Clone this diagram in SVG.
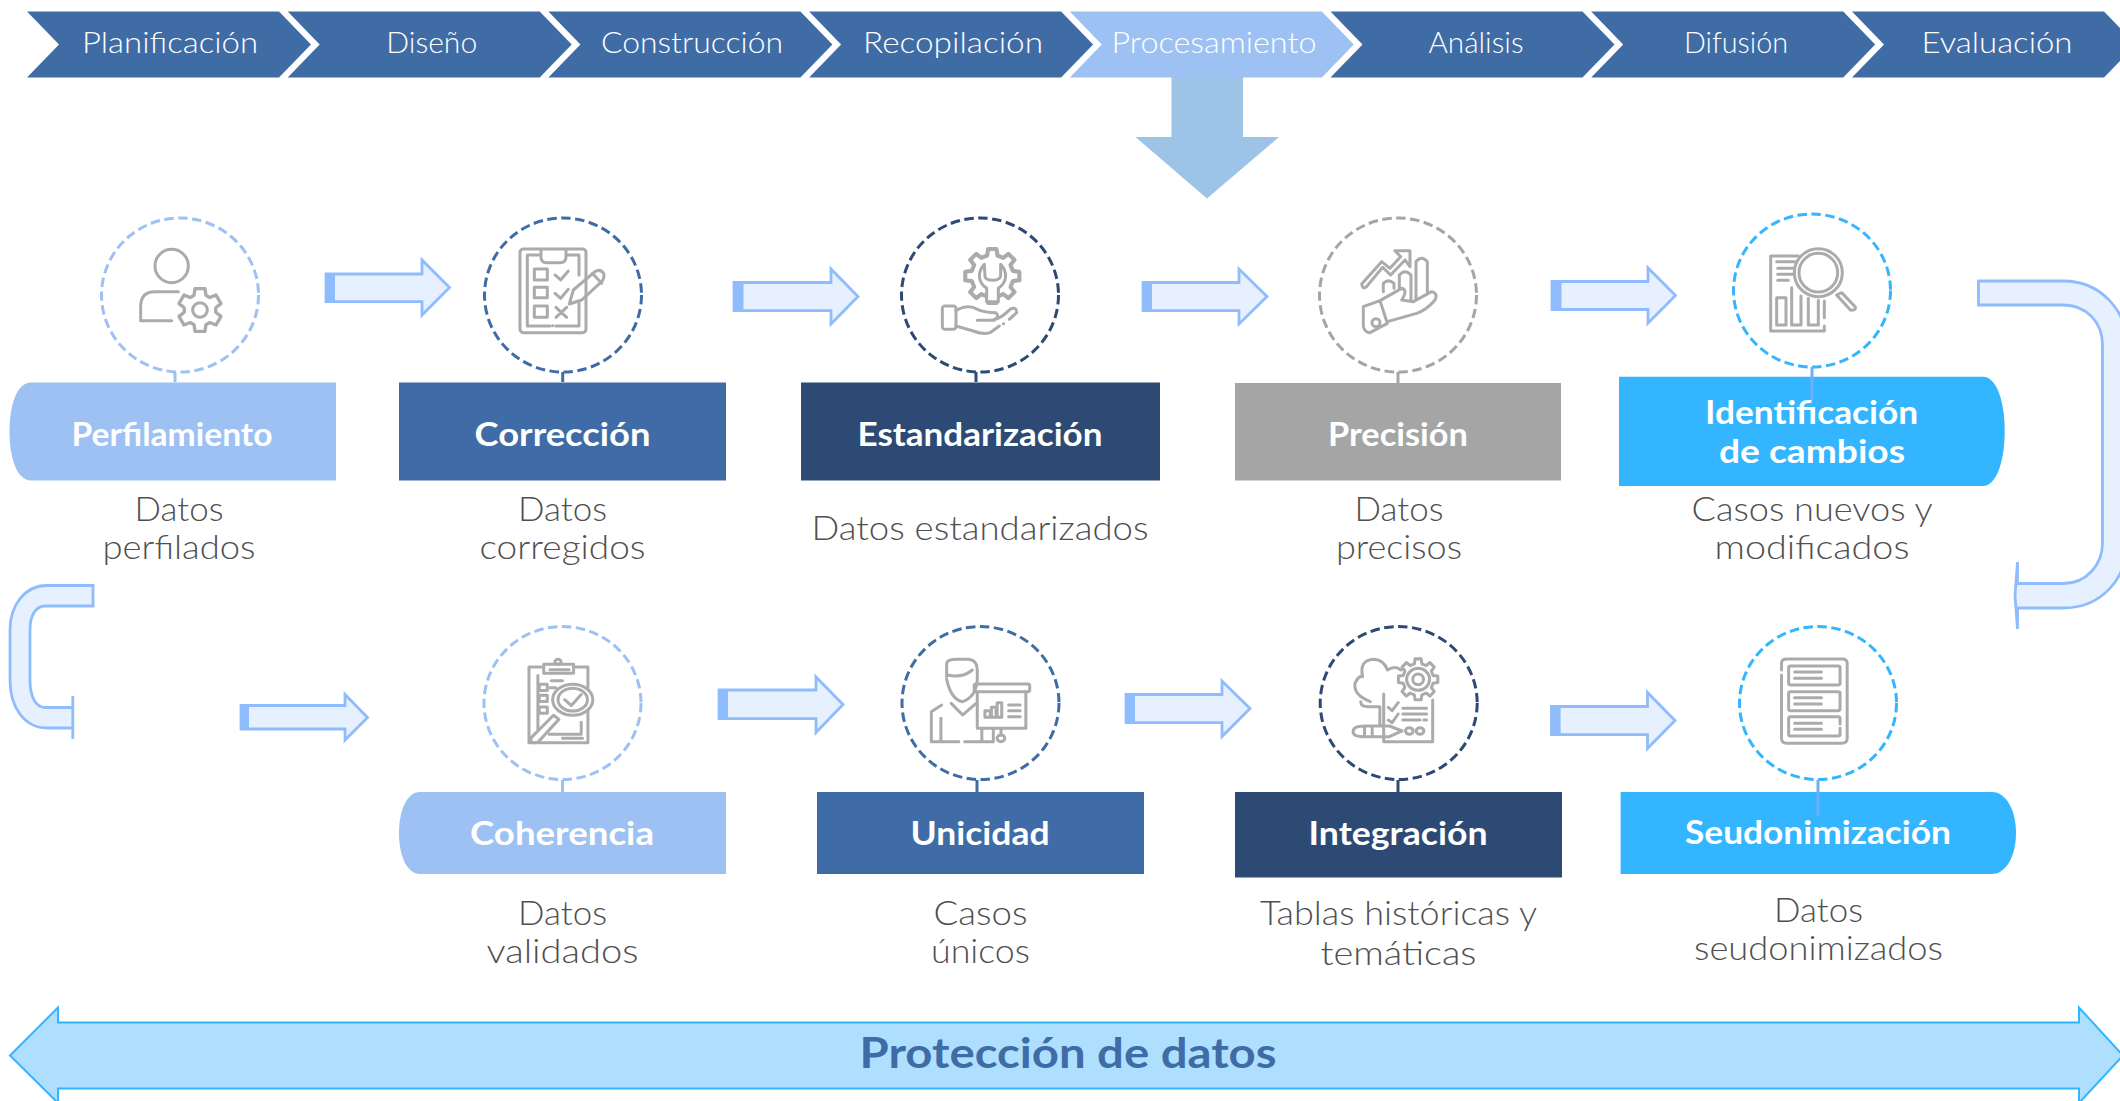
<svg xmlns="http://www.w3.org/2000/svg" xmlns:xlink="http://www.w3.org/1999/xlink" width="2120" height="1101" viewBox="0 0 2120 1101">
<style>
text{font-family:"Lato","Open Sans","Liberation Sans",sans-serif;text-anchor:middle}
.ch{font-size:28.5px;fill:#fff;font-weight:300}
.bx{font-size:32.5px;fill:#fff;font-weight:700}
.cap{font-size:32.5px;fill:#4F4F4F;font-weight:300}
.chev{fill:#406CA6}
.ring{fill:none;stroke-width:3;stroke-dasharray:9.5 4.5}
.arr{fill:#E6F0FE;stroke:#8FBCFC;stroke-width:2.8}
.strip{fill:#8FBCFC}
.icon{fill:none;stroke:#ABABAB;stroke-width:3;stroke-linecap:round;stroke-linejoin:round}
.icon *{vector-effect:non-scaling-stroke}
.l{stroke:#9DC1F3;fill:#9DC1F3}.m{stroke:#3F6CA6;fill:#3F6CA6}.d{stroke:#2C4A74;fill:#2C4A74}.g{stroke:#A5A5A5;fill:#A5A5A5}.c{stroke:#33B5FF;fill:#33B5FF}
.b{stroke:none}.ring.l,.ring.m,.ring.d,.ring.g,.ring.c{fill:none}
.stem{stroke-width:3;fill:none}
</style>
<defs>
<path id="chevron" d="M0 0H252L284 33L252 66H0L32 33Z"/>
<polygon id="g6" points="-5.4,-13.4 -4.5,-19.5 4.5,-19.5 5.4,-13.4 8.9,-11.3 14.6,-13.6 19.1,-5.8 14.3,-2 14.3,2 19.1,5.8 14.6,13.6 8.9,11.3 5.4,13.4 4.5,19.5 -4.5,19.5 -5.4,13.4 -8.9,11.3 -14.6,13.6 -19.1,5.8 -14.3,2 -14.3,-2 -19.1,-5.8 -14.6,-13.6 -8.9,-11.3"/>
<polygon id="g8" points="-3.75,-15 -3.1,-19.8 3.1,-19.8 3.75,-15 8,-13.3 11.8,-16.2 16.2,-11.8 13.3,-8 15,-3.75 19.8,-3.1 19.8,3.1 15,3.75 13.3,8 16.2,11.8 11.8,16.2 8,13.3 3.75,15 3.1,19.8 -3.1,19.8 -3.75,15 -8,13.3 -11.8,16.2 -16.2,11.8 -13.3,8 -15,3.75 -19.8,3.1 -19.8,-3.1 -15,-3.75 -13.3,-8 -16.2,-11.8 -11.8,-16.2 -8,-13.3"/>
</defs>
<rect width="2120" height="1101" fill="#fff"/>

<g id="etapas">
<g id="etapa-planificacion"><use href="#chevron" x="27" y="11.5" class="chev"/><text class="ch" x="170" y="53" textLength="176" lengthAdjust="spacingAndGlyphs">Planificación</text></g>
<g id="etapa-diseno"><use href="#chevron" x="287.7" y="11.5" class="chev"/><text class="ch" x="431.7" y="53" textLength="91" lengthAdjust="spacingAndGlyphs">Diseño</text></g>
<g id="etapa-construccion"><use href="#chevron" x="548.4" y="11.5" class="chev"/><text class="ch" x="692" y="53" textLength="182" lengthAdjust="spacingAndGlyphs">Construcción</text></g>
<g id="etapa-recopilacion"><use href="#chevron" x="809.1" y="11.5" class="chev"/><text class="ch" x="953" y="53" textLength="180" lengthAdjust="spacingAndGlyphs">Recopilación</text></g>
<g id="etapa-procesamiento"><use href="#chevron" x="1069.8" y="11.5" fill="#9DC1F3"/><text class="ch" x="1214" y="53" textLength="205" lengthAdjust="spacingAndGlyphs">Procesamiento</text></g>
<g id="etapa-analisis"><use href="#chevron" x="1330.5" y="11.5" class="chev"/><text class="ch" x="1476" y="53" textLength="95" lengthAdjust="spacingAndGlyphs">Análisis</text></g>
<g id="etapa-difusion"><use href="#chevron" x="1591.2" y="11.5" class="chev"/><text class="ch" x="1736" y="53" textLength="104" lengthAdjust="spacingAndGlyphs">Difusión</text></g>
<g id="etapa-evaluacion"><use href="#chevron" x="1852" y="11.5" class="chev"/><text class="ch" x="1997" y="53" textLength="151" lengthAdjust="spacingAndGlyphs">Evaluación</text></g>
</g>

<g id="connectors">
<path id="flecha-procesamiento" d="M1171.5 77H1243V137H1279L1207 198.5L1135.5 137H1171.5Z" fill="#9DC3E6"/>
<g id="flecha-1"><path class="arr" d="M326 274H422V260L449.5 287.5L422 315V301.7H326Z"/><rect class="strip" x="325" y="274" width="10" height="28"/></g>
<g id="flecha-2"><path class="arr" d="M734 282.5H831V269L858 296.5L831 324V310.7H734Z"/><rect class="strip" x="733.5" y="282.5" width="10" height="28"/></g>
<g id="flecha-3"><path class="arr" d="M1143 282.5H1239V269L1267 296.5L1239 324V310.7H1143Z"/><rect class="strip" x="1142" y="282.5" width="10" height="28"/></g>
<g id="flecha-4"><path class="arr" d="M1552 281.5H1648V268L1675.5 295.5L1648 323V309.5H1552Z"/><rect class="strip" x="1551.5" y="281.5" width="10" height="28"/></g>
<path id="flecha-curva-derecha" class="arr" d="M1978.5 281H2063.5C2100 281 2127 310 2127 345V543C2127 580 2100 608 2063.5 608H2017.5V629L2015 595.5L2017.5 562V583.5H2063.5C2086 583.5 2102.5 565 2102.5 543V345C2102.5 322 2086 305 2063.5 305H1978.5Z"/>
<path id="flecha-curva-izquierda" class="arr" d="M93 585.5H47C25 585.5 10 605 10 630V680C10 708 25 728 47 728H72.8V739V696V707.5H45C36 707.5 30 697 30 680V630C30 615 36 606 45 606H93Z"/>
<g id="flecha-5"><path class="arr" d="M241 705.5H345V694.5L367.5 717.5L345 740V729H241Z"/><rect class="strip" x="240" y="705.5" width="9" height="23.5"/></g>
<g id="flecha-6"><path class="arr" d="M719 690H816V677L843 704.5L816 732.5V718.7H719Z"/><rect class="strip" x="718" y="690" width="10" height="29"/></g>
<g id="flecha-7"><path class="arr" d="M1126 694.5H1222V681L1250 708.5L1222 736.5V722.7H1126Z"/><rect class="strip" x="1125" y="694.5" width="10" height="28"/></g>
<g id="flecha-8"><path class="arr" d="M1551.5 706.5H1647.5V692.5L1675 720.5L1647.5 748.5V734.7H1551.5Z"/><rect class="strip" x="1550.6" y="706.5" width="10" height="28"/></g>
</g>

<g id="perfilamiento">
<ellipse class="ring l" cx="180" cy="295" rx="78.5" ry="77"/><path class="stem l" d="M175 372V382"/>
<path class="l b" d="M336 382.5V480.5H31C17 480.5 9.5 458 9.5 431.5S17 382.5 31 382.5Z"/>
<g class="icon" transform="translate(90 200) scale(.3333)"><circle cx="245" cy="198" r="50"/><path d="M265 275H195Q152 275 152 320V362H245"/><use href="#g6" transform="translate(330 330) scale(3.3)"/><circle cx="330" cy="330" r="22"/></g>
<text class="bx" x="172" y="446" textLength="201" lengthAdjust="spacingAndGlyphs">Perfilamiento</text>
<text class="cap"><tspan x="179" y="521" textLength="89" lengthAdjust="spacingAndGlyphs">Datos</tspan><tspan x="179" y="559" textLength="153" lengthAdjust="spacingAndGlyphs">perfilados</tspan></text>
</g>

<g id="correccion">
<ellipse class="ring m" cx="563" cy="295" rx="78.5" ry="77"/><path class="stem m" d="M562.7 372V382"/>
<rect class="m b" x="399" y="382.5" width="327" height="98"/>
<g class="icon" transform="translate(470 200) scale(.3333)"><rect x="150" y="147" width="198" height="251" rx="10"/><path d="M213 165H172V378H240M258 378H327V310M327 225V165H288M213 150V170Q213 188 230 188H270Q288 188 288 170V150"/><rect x="193" y="207" width="39" height="33"/><rect x="193" y="262" width="39" height="31"/><rect x="193" y="318" width="39" height="34"/><path d="M255 225L272 240L295 213M255 280L272 295L295 268M258 322L290 352M290 322L258 352M248 377H249M298 312L310 270L375 215Q392 205 402 222Q402 238 395 245L335 300ZM367 220L395 250"/></g>
<text class="bx" x="562.5" y="446" textLength="176" lengthAdjust="spacingAndGlyphs">Corrección</text>
<text class="cap"><tspan x="562.5" y="521" textLength="89" lengthAdjust="spacingAndGlyphs">Datos</tspan><tspan x="562.5" y="559" textLength="166" lengthAdjust="spacingAndGlyphs">corregidos</tspan></text>
</g>

<g id="estandarizacion">
<ellipse class="ring d" cx="980" cy="295" rx="78.5" ry="77"/><path class="stem d" d="M976 372V382"/>
<rect class="d b" x="801" y="382.5" width="359" height="98"/>
<g class="icon" transform="translate(890 211) scale(.3333)"><use href="#g8" transform="translate(307 195) scale(4.1)"/><path d="M283 160C260 185 265 215 290 232V272H325V232C350 215 355 185 332 160V195C330 212 285 212 285 195Z" fill="#fff"/><rect x="157" y="285" width="41" height="70" rx="8"/><path d="M198 298Q235 278 262 295Q285 305 318 305Q330 318 312 328H262M312 325Q330 325 360 295Q380 285 380 305L358 325M198 345L250 360Q280 372 300 365L328 345M340 338H341"/></g>
<text class="bx" x="980" y="446" textLength="245" lengthAdjust="spacingAndGlyphs">Estandarización</text>
<text class="cap" x="980" y="540" textLength="337" lengthAdjust="spacingAndGlyphs">Datos estandarizados</text>
</g>

<g id="precision">
<ellipse class="ring g" cx="1398" cy="295" rx="78.5" ry="77"/><path class="stem g" d="M1398 372V383"/>
<rect class="g b" x="1235" y="383" width="326" height="97.5"/>
<g class="icon" transform="translate(1310 210) scale(.3333)"><path d="M155 222L215 155L240 175L272 140L255 122H300V170L285 150L242 195L218 172L168 232Q158 238 155 222ZM220 245V220Q235 205 252 220V235M268 235V195Q285 175 303 195V270M318 270V155Q335 135 352 155V245M160 290L210 272L232 340L180 368Q165 368 160 350ZM210 272L275 235Q295 240 275 270L310 275L365 245Q385 250 375 270Q350 300 320 310L232 335"/><circle cx="198" cy="338" r="12"/></g>
<text class="bx" x="1398" y="446" textLength="140" lengthAdjust="spacingAndGlyphs">Precisión</text>
<text class="cap"><tspan x="1399" y="521" textLength="89" lengthAdjust="spacingAndGlyphs">Datos</tspan><tspan x="1399" y="559" textLength="126" lengthAdjust="spacingAndGlyphs">precisos</tspan></text>
</g>

<g id="identificacion">
<ellipse class="ring c" cx="1812" cy="290.5" rx="78.5" ry="76.5"/>
<path class="c b" d="M1619 376.7V486H1983C1996 486 2004.7 462 2004.7 431S1996 376.7 1983 376.7Z"/>
<path class="stem" stroke="#6FAEF8" d="M1812 367V400"/>
<g class="icon" transform="translate(1730 211) scale(.3333)"><path d="M205 135H122V360H283V345M283 320V270"/><rect x="140" y="260" width="28" height="82"/><path d="M185 230V342H213V255M235 262V342H265V268M140 152H195M143 172H190M143 190H190M143 208H175M320 252L335 245L376 288Q378 298 362 298L320 252"/><circle cx="265" cy="185" r="72"/><circle cx="265" cy="185" r="58"/></g>
<text class="bx"><tspan x="1811.6" y="424" textLength="213" lengthAdjust="spacingAndGlyphs">Identificación</tspan><tspan x="1812" y="463" textLength="186" lengthAdjust="spacingAndGlyphs">de cambios</tspan></text>
<text class="cap"><tspan x="1812" y="521" textLength="241" lengthAdjust="spacingAndGlyphs">Casos nuevos y</tspan><tspan x="1812" y="559" textLength="195" lengthAdjust="spacingAndGlyphs">modificados</tspan></text>
</g>

<g id="coherencia">
<ellipse class="ring l" cx="562.5" cy="703" rx="78.5" ry="76.5"/><path class="stem l" d="M562.5 780V792"/>
<path class="l b" d="M726 792V874H420C407 874 399 856 399 833S407 792 420 792Z"/>
<g class="icon" transform="translate(0 560) scale(.4464 .345)"><path d="M1212 310H1185V530H1317V310H1290M1205 335V490M1302 470V505H1230M1260 517H1305M1232 318H1275M1235 350H1260M1232 370H1245"/><rect x="1218" y="302" width="67" height="26"/><circle cx="1250" cy="295" r="7"/><rect x="1208" y="360" width="18" height="18"/><rect x="1208" y="392" width="18" height="18"/><rect x="1208" y="426" width="18" height="18"/><circle cx="1283" cy="405" r="45" fill="#fff"/><circle cx="1283" cy="405" r="33"/><path d="M1265 405L1280 422L1302 390M1190 515L1240 450L1252 462L1205 528Q1185 535 1190 515Z"/></g>
<text class="bx" x="562" y="845" textLength="184" lengthAdjust="spacingAndGlyphs">Coherencia</text>
<text class="cap"><tspan x="562.5" y="925" textLength="89" lengthAdjust="spacingAndGlyphs">Datos</tspan><tspan x="562.5" y="963" textLength="152" lengthAdjust="spacingAndGlyphs">validados</tspan></text>
</g>

<g id="unicidad">
<ellipse class="ring m" cx="980.5" cy="703" rx="78.5" ry="76.5"/><path class="stem m" d="M977 780V792"/>
<rect class="m b" x="817" y="792" width="327" height="82"/>
<g class="icon" transform="translate(890 620) scale(.3827 .3333)"><path d="M148 170V130Q150 118 175 118H205Q228 120 228 150V180M148 178Q160 240 190 245Q225 230 228 180M150 165Q190 175 215 150M135 255L108 275V365H180M195 365H270M160 250L190 285L225 250M133 365V295M240 325V365M270 325V365M290 325V345M310 255H340M310 272H340M310 290H340"/><rect x="220" y="192" width="145" height="23" rx="5"/><path d="M228 215V325H355V215"/><rect x="248" y="272" width="14" height="20"/><rect x="265" y="262" width="12" height="30"/><rect x="280" y="248" width="12" height="44"/><circle cx="290" cy="355" r="10"/></g>
<text class="bx" x="980" y="845" textLength="139" lengthAdjust="spacingAndGlyphs">Unicidad</text>
<text class="cap"><tspan x="980.5" y="925" textLength="94" lengthAdjust="spacingAndGlyphs">Casos</tspan><tspan x="980.5" y="963" textLength="99" lengthAdjust="spacingAndGlyphs">únicos</tspan></text>
</g>

<g id="integracion">
<ellipse class="ring d" cx="1398.7" cy="703" rx="78.5" ry="76.5"/><path class="stem d" d="M1398 780V792"/>
<rect class="d b" x="1235" y="792" width="327" height="85.5"/>
<g class="icon" transform="translate(890 620) scale(.3827 .3333)"><path d="M1255 245Q1210 225 1215 190Q1225 165 1235 170Q1225 120 1265 118Q1290 120 1300 150Q1320 135 1335 150M1290 222V365H1418V240M1302 262L1312 272L1328 248M1302 300L1312 308L1328 282M1340 265H1402M1340 282H1402M1340 300H1385M1395 300H1402M1240 318Q1210 318 1210 335Q1210 350 1240 350H1305L1338 333L1305 318ZM1240 318V350M1260 318V350M1230 245Q1230 260 1250 260H1280V318"/><use href="#g8" transform="translate(1380 178) scale(2.6 3.1)" fill="#fff"/><ellipse cx="1380" cy="178" rx="30" ry="33"/><ellipse cx="1380" cy="178" rx="14" ry="16"/><circle cx="1357" cy="333" r="10"/><circle cx="1385" cy="333" r="10"/></g>
<text class="bx" x="1398" y="845" textLength="179" lengthAdjust="spacingAndGlyphs">Integración</text>
<text class="cap"><tspan x="1398.5" y="925" textLength="277" lengthAdjust="spacingAndGlyphs">Tablas históricas y</tspan><tspan x="1398.5" y="965" textLength="156" lengthAdjust="spacingAndGlyphs">temáticas</tspan></text>
</g>

<g id="seudonimizacion">
<ellipse class="ring c" cx="1818" cy="703" rx="78.5" ry="76.5"/>
<path class="c b" d="M1620.6 792V874H1992C2006 874 2016 856 2016 833S2006 792 1992 792Z"/>
<path class="stem" stroke="#6FAEF8" d="M1818 780V816"/>
<g class="icon" transform="translate(1500 600) scale(.3954 .3333)"><path d="M712 210V190Q712 177 725 177H865Q878 177 878 190V415Q878 430 865 430H725Q712 430 712 415V225"/><rect x="730" y="198" width="130" height="57" rx="5"/><rect x="730" y="275" width="130" height="57" rx="5"/><path d="M860 372V355Q860 350 855 350H735Q730 350 730 355V403Q730 408 735 408H855Q860 408 860 403V385M745 216H813M745 235H813M745 293H813M745 312H813M745 370H813M745 388H813"/></g>
<text class="bx" x="1818" y="844" textLength="266" lengthAdjust="spacingAndGlyphs">Seudonimización</text>
<text class="cap"><tspan x="1818.5" y="922" textLength="89" lengthAdjust="spacingAndGlyphs">Datos</tspan><tspan x="1818.5" y="960" textLength="249" lengthAdjust="spacingAndGlyphs">seudonimizados</tspan></text>
</g>

<g id="proteccion">
<path d="M10 1055.5L58 1007.5V1022.5H2079V1007.5L2123 1055.5L2079 1103V1088.5H58V1103Z" fill="#AEDFFF" stroke="#33B5FF" stroke-width="2"/>
<text x="1068" y="1068" font-size="42" font-weight="700" fill="#3F6CA6" textLength="417" lengthAdjust="spacingAndGlyphs">Protección de datos</text>
</g>
</svg>
